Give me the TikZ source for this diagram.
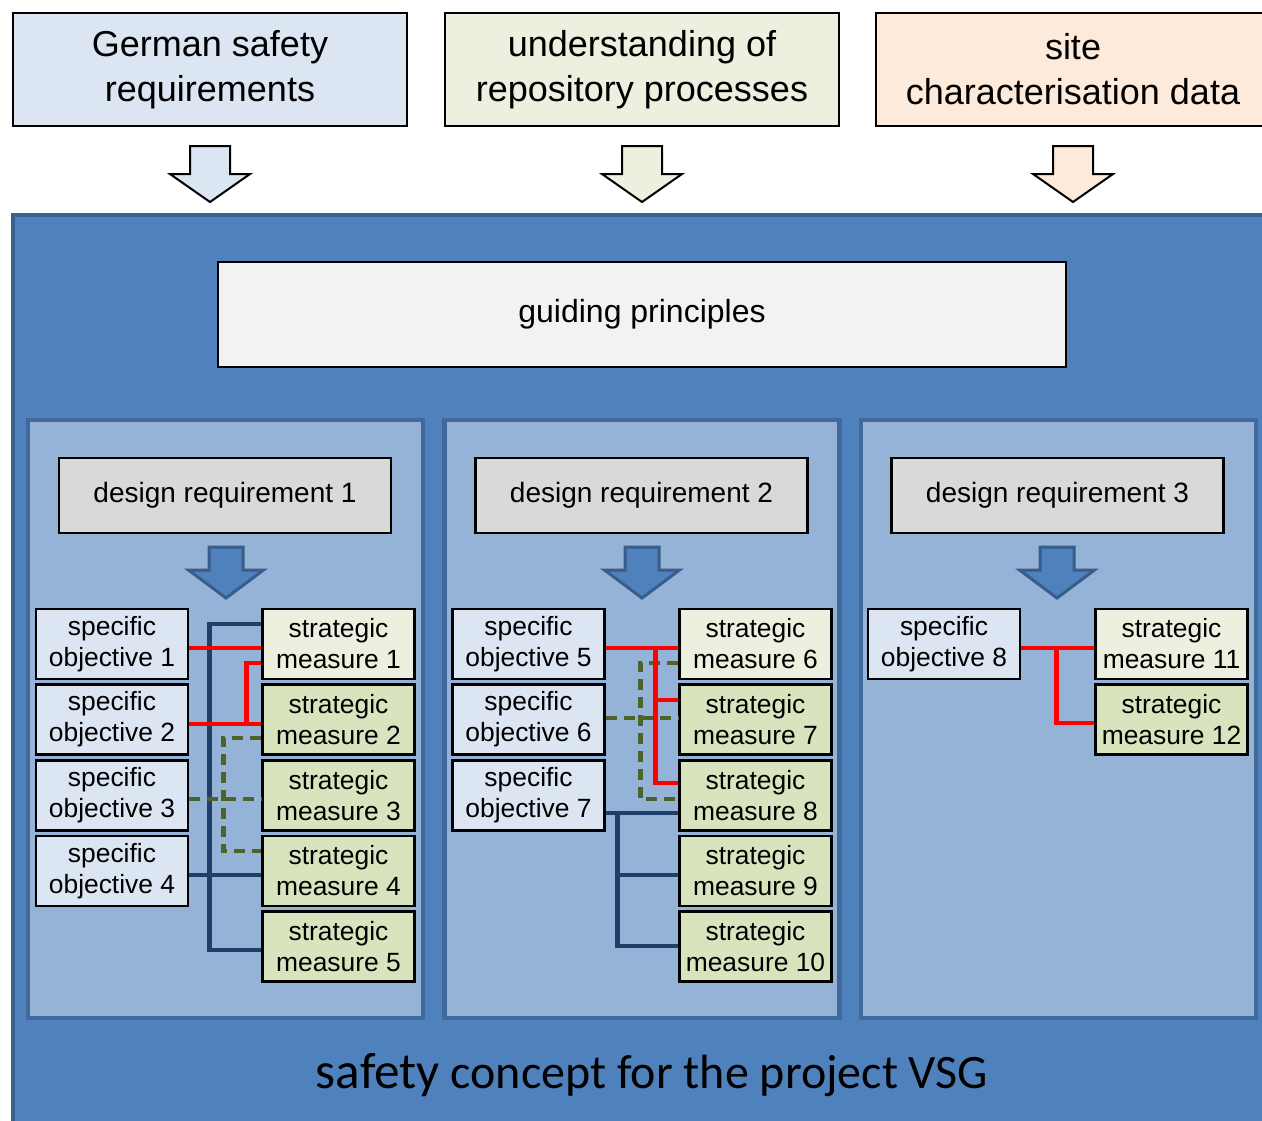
\documentclass[tikz,border=0pt]{standalone}
\usepackage{fontspec}
\setmainfont{Liberation Sans}
\newfontfamily\calibrifont{Carlito}
\usetikzlibrary{positioning}

\definecolor{mainblue}{HTML}{4F81BD}
\definecolor{mainborder}{HTML}{3A6192}
\definecolor{colblue}{HTML}{95B3D7}
\definecolor{colborder}{HTML}{41699B}
\definecolor{objfill}{HTML}{DCE6F2}
\definecolor{measlight}{HTML}{EBF1DE}
\definecolor{measfill}{HTML}{D7E4BD}
\definecolor{reqgray}{HTML}{D9D9D9}
\definecolor{guidefill}{HTML}{F2F2F2}
\definecolor{toporange}{HTML}{FDEADA}
\definecolor{linkred}{HTML}{FF0000}
\definecolor{linknavy}{HTML}{1F3F68}
\definecolor{linkolive}{HTML}{4F6228}
\definecolor{arrowborder}{HTML}{385D8A}

\tikzset{
  topbox/.style={draw=black,line width=1.1pt,minimum width=197pt,minimum height=56.5pt,
    align=center,font=\fontsize{18}{22.5}\selectfont},
  reqbox/.style={draw=black,line width=1.1pt,fill=reqgray,minimum width=166pt,minimum height=37.5pt,
    font=\fontsize{14}{16}\selectfont},
  smallbox/.style={draw=black,line width=1.1pt,minimum width=76pt,minimum height=35pt,inner sep=1pt,
    align=center,font=\fontsize{13.2}{15.5}\selectfont},
  objbox/.style={smallbox,fill=objfill},
  measbox/.style={smallbox,fill=measfill},
  colpanel/.style={draw=colborder,line width=2.2pt,fill=colblue,minimum width=197.5pt,minimum height=299pt},
  redlink/.style={draw=linkred,line width=2.4pt},
  navylink/.style={draw=linknavy,line width=2.4pt},
  olivelink/.style={draw=linkolive,line width=2.4pt,dash pattern=on 5.5pt off 3.5pt}
}

\begin{document}
\begin{tikzpicture}[x=0.5pt,y=-0.5pt]
  \useasboundingbox (0,0) rectangle (1262,1120);

  % inputs
  \node[topbox,fill=objfill] (gsreq) at (210,69.5) {German safety\\requirements};
  \node[topbox,fill=measlight] (repproc) at (642,69.5) {understanding of\\repository processes};
  \node[topbox,fill=toporange] (sitedata) at (1073,69.5) {site\\characterisation data};

  \foreach \x/\c in {210/objfill,642/measlight,1073/toporange}
    \draw[fill=\c,line width=1pt] (\x-20,146) -- (\x+20,146) -- (\x+20,174) -- (\x+40,174)
      -- (\x,202) -- (\x-40,174) -- (\x-20,174) -- cycle;

  % safety concept panel
  \draw[draw=mainborder,line width=2pt,fill=mainblue] (13,215) rectangle (1272,1135);
  \node[draw=black,line width=1.1pt,fill=guidefill,minimum width=424pt,minimum height=52.5pt,
    font=\fontsize{16}{18}\selectfont] (guide) at (642,314.5) {guiding principles};

  \foreach \n/\x in {1/225.5,2/642,3/1058.5}
    \node[colpanel] (col\n) at (\x,719) {};

  \node[reqbox] (dreq1) at (225,495.5) {design requirement 1};
  \node[reqbox] (dreq2) at (641.5,495.5) {design requirement 2};
  \node[reqbox] (dreq3) at (1057.5,495.5) {design requirement 3};

  \foreach \x in {226,642,1057}
    \draw[draw=arrowborder,line width=1.5pt,fill=mainblue] (\x-17,547) -- (\x+17,547) -- (\x+17,570)
      -- (\x+37.5,570) -- (\x,598) -- (\x-37.5,570) -- (\x-17,570) -- cycle;

  % design requirement 1
  \node[objbox] (obj1) at (112,644) {specific\\objective 1};
  \node[objbox] (obj2) at (112,719.5) {specific\\objective 2};
  \node[objbox] (obj3) at (112,795.5) {specific\\objective 3};
  \node[objbox] (obj4) at (112,871) {specific\\objective 4};
  \node[measbox,fill=measlight] (meas1) at (338.5,644) {strategic\\measure 1};
  \node[measbox] (meas2) at (338.5,719.5) {strategic\\measure 2};
  \node[measbox] (meas3) at (338.5,795.5) {strategic\\measure 3};
  \node[measbox] (meas4) at (338.5,871) {strategic\\measure 4};
  \node[measbox] (meas5) at (338.5,946.5) {strategic\\measure 5};

  \draw[navylink] ([yshift=-2pt]obj4.east) -- ([yshift=-2pt]meas4.west);
  \draw[navylink] ([yshift=10pt]meas1.west) -| ([xshift=-26pt,yshift=-1.75pt]meas5.west)
    -- ([yshift=-1.75pt]meas5.west);
  \draw[olivelink] ([yshift=-1.75pt]obj3.east) -- ([yshift=-1.75pt]meas3.west);
  \draw[olivelink] ([yshift=-9.25pt]meas2.west) -| ([xshift=-19pt]meas3.west)
    |- ([yshift=10pt]meas4.west);
  \draw[redlink] ([yshift=-2pt]obj1.east) -- ([yshift=-2pt]meas1.west);
  \draw[redlink] ([yshift=-2.25pt]obj2.east) -- ([yshift=-2.25pt]meas2.west);
  \draw[redlink] ([xshift=-7.5pt,yshift=-2.25pt]meas2.west) |- ([yshift=-9.5pt]meas1.west);

  % design requirement 2
  \node[objbox] (obj5) at (528.5,644) {specific\\objective 5};
  \node[objbox] (obj6) at (528.5,719.5) {specific\\objective 6};
  \node[objbox] (obj7) at (528.5,795.5) {specific\\objective 7};
  \node[measbox,fill=measlight] (meas6) at (755.5,644) {strategic\\measure 6};
  \node[measbox] (meas7) at (755.5,719.5) {strategic\\measure 7};
  \node[measbox] (meas8) at (755.5,795.5) {strategic\\measure 8};
  \node[measbox] (meas9) at (755.5,871) {strategic\\measure 9};
  \node[measbox] (meas10) at (755.5,946.5) {strategic\\measure 10};

  \draw[navylink] ([yshift=-8.75pt]obj7.east) -- ([yshift=-8.75pt]meas8.west);
  \draw[navylink] ([xshift=-30.5pt,yshift=-8.75pt]meas8.west) |- ([yshift=0.25pt]meas10.west);
  \draw[navylink] ([xshift=-30.5pt,yshift=-2pt]meas9.west) -- ([yshift=-2pt]meas9.west);
  \draw[olivelink] ([yshift=0.75pt]obj6.east) -- ([yshift=0.75pt]meas7.west);
  \draw[olivelink] ([yshift=-9.5pt]meas6.west) -| ([xshift=-19pt]meas7.west)
    |- ([yshift=-1.75pt]meas8.west);
  \draw[redlink] ([yshift=-2pt]obj5.east) -- ([yshift=-2pt]meas6.west);
  \draw[redlink] ([xshift=-11.5pt,yshift=-2pt]meas6.west) |- ([yshift=6.25pt]meas8.west);
  \draw[redlink] ([xshift=-11.5pt,yshift=9.75pt]meas7.west) -- ([yshift=9.75pt]meas7.west);

  % design requirement 3
  \node[objbox] (obj8) at (944,644) {specific\\objective 8};
  \node[measbox,fill=measlight] (meas11) at (1171.5,644) {strategic\\measure 11};
  \node[measbox] (meas12) at (1171.5,719.5) {strategic\\measure 12};

  \draw[redlink] ([yshift=-2pt]obj8.east) -- ([yshift=-2pt]meas11.west);
  \draw[redlink] ([xshift=-19pt,yshift=-2pt]meas11.west) |- ([yshift=-1.75pt]meas12.west);

  \node[anchor=base,font=\calibrifont\fontsize{24}{28}\selectfont] (title) at (652,1088)
    {{\fontsize{25.6}{28}\selectfont safety} concept for the project VSG};
\end{tikzpicture}
\end{document}
